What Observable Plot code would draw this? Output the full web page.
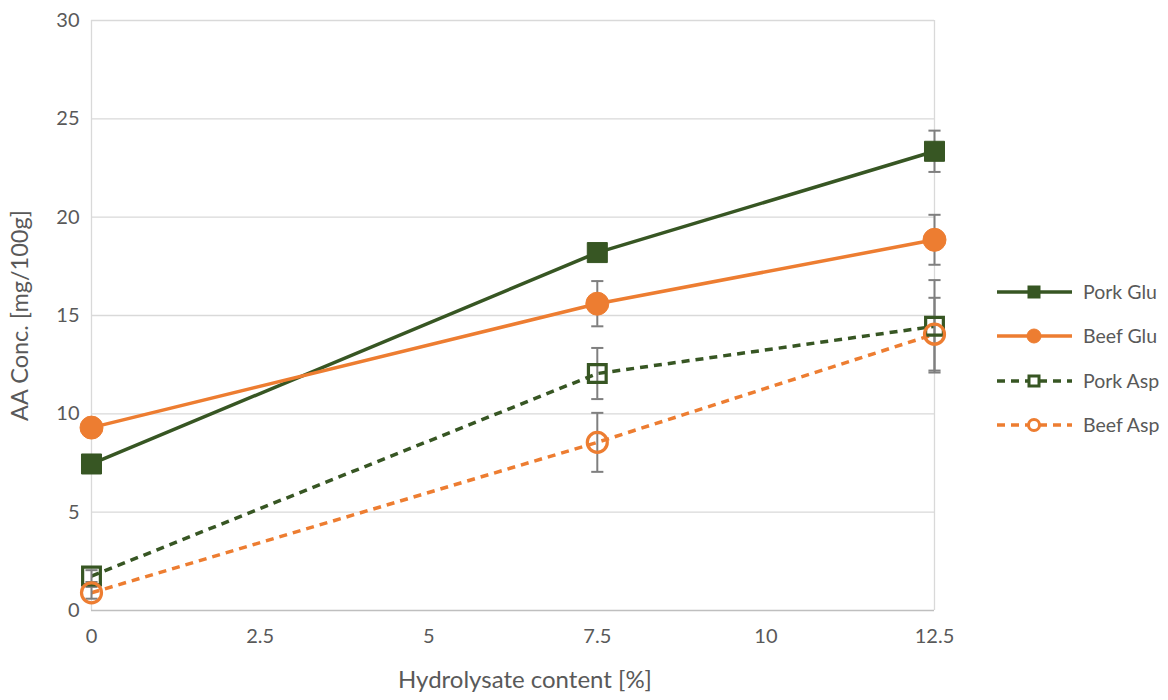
<!DOCTYPE html>
<html>
<head>
<meta charset="utf-8">
<script src="https://cdn.jsdelivr.net/npm/d3@7"></script>
<script src="https://cdn.jsdelivr.net/npm/@observablehq/plot@0.6"></script>
<style>
  html, body { margin: 0; padding: 0; background: #fff; }
  #chart { width: 1168px; height: 700px; }
</style>
</head>
<body>
<div id="chart"></div>
<script>
// Hydrolysate content levels (%)
const hydrolysate = [0, 7.5, 12.5];
const xTicks = [0, 2.5, 5, 7.5, 10, 12.5];
const yTicks = [0, 5, 10, 15, 20, 25, 30];

// Amino acid concentration (mg/100g) with error bar half-widths
const seriesNames = ["Pork Glu", "Beef Glu", "Pork Asp", "Beef Asp"];
const porkGlu = [7.45, 18.2, 23.35];
const porkGluErr = [0.2, 0.3, 1.05];
const beefGlu = [9.3, 15.6, 18.85];
const beefGluErr = [0.2, 1.15, 1.27];
const porkAsp = [1.75, 12.05, 14.45];
const porkAspErr = [0.3, 1.3, 2.35];
const beefAsp = [0.9, 8.55, 14.05];
const beefAspErr = [0.3, 1.5, 1.85];

const green = "#375623";
const orange = "#ED7D31";
const styles = {
  "Pork Glu": {color: green, dash: null, symbol: "square", filled: true},
  "Beef Glu": {color: orange, dash: null, symbol: "circle", filled: true},
  "Pork Asp": {color: green, dash: "8,6", symbol: "square", filled: false},
  "Beef Asp": {color: orange, dash: "8,6", symbol: "circle", filled: false}
};

const values = [porkGlu, beefGlu, porkAsp, beefAsp];
const errors = [porkGluErr, beefGluErr, porkAspErr, beefAspErr];
const data = seriesNames.flatMap((s, i) =>
  hydrolysate.map((x, j) => ({series: s, x, y: values[i][j], e: errors[i][j]}))
);

const font = "Lato, 'Open Sans', sans-serif";
const textColor = "#595959";
const capHalf = 0.09;

const marks = [
  Plot.gridY(yTicks.slice(1), {stroke: "#d9d9d9", strokeOpacity: 1, strokeWidth: 1.3}),
  Plot.ruleX([0, 12.5], {stroke: "#d9d9d9", strokeWidth: 1.3}),
  Plot.ruleY([0], {stroke: "#bfbfbf", strokeWidth: 1.3}),
  Plot.axisY(yTicks, {tickSize: 0, tickPadding: 12, fontSize: 20, fill: textColor, label: null}),
  Plot.axisX(xTicks, {tickSize: 0, tickPadding: 18, fontSize: 20, fill: textColor,
    tickFormat: d => String(d), label: null}),
  Plot.text(["AA Conc. [mg/100g]"], {frameAnchor: "left", rotate: -90, dx: -71,
    textAnchor: "middle", lineAnchor: "middle", fontSize: 23.5, fill: textColor}),
  Plot.text(["Hydrolysate content [%]"], {frameAnchor: "bottom", dy: 70, dx: 12,
    textAnchor: "middle", lineAnchor: "middle", fontSize: 24, fill: textColor})
];

for (const s of seriesNames) {
  const st = styles[s];
  const d = data.filter(r => r.series === s);
  marks.push(Plot.line(d, {x: "x", y: "y", stroke: st.color, strokeWidth: 3.5,
    strokeDasharray: st.dash, strokeLinecap: "butt"}));
}
// error bars
marks.push(Plot.ruleX(data, {x: "x", y1: d => d.y - d.e, y2: d => d.y + d.e, stroke: "#7f7f7f", strokeWidth: 2}));
marks.push(Plot.link(data, {x1: d => d.x - capHalf, x2: d => d.x + capHalf, y1: d => d.y - d.e, y2: d => d.y - d.e, stroke: "#7f7f7f", strokeWidth: 2}));
marks.push(Plot.link(data, {x1: d => d.x - capHalf, x2: d => d.x + capHalf, y1: d => d.y + d.e, y2: d => d.y + d.e, stroke: "#7f7f7f", strokeWidth: 2}));

for (const s of seriesNames) {
  const st = styles[s];
  const d = data.filter(r => r.series === s);
  const r = st.symbol === "square" ? (st.filled ? 11.3 : 10) : (st.filled ? 11.5 : 10);
  marks.push(Plot.dot(d, {x: "x", y: "y", symbol: st.symbol, r,
    fill: st.filled ? st.color : "none", stroke: st.color, strokeWidth: st.filled ? 1 : 3.2}));
}

const chart = Plot.plot({
  width: 1168,
  height: 700,
  marginLeft: 91,
  marginRight: 234,
  marginTop: 20,
  marginBottom: 90,
  style: {fontFamily: font, background: "#fff", color: textColor, fontSize: "20px"},
  x: {domain: [0, 12.5]},
  y: {domain: [0, 30]},
  marks
});

// legend drawn at the right of the plot area
const svg = d3.select(chart);
const legend = svg.append("g").attr("font-family", font).attr("font-size", 19.5)
  .attr("fill", textColor).attr("text-anchor", "start");
const lx0 = 997, lx1 = 1072, lmid = 1034, ltext = 1083;
const rowY = [292, 336, 381, 425];
seriesNames.forEach((s, i) => {
  const st = styles[s];
  const y = rowY[i];
  legend.append("line").attr("x1", lx0).attr("x2", lx1).attr("y1", y).attr("y2", y)
    .attr("stroke", st.color).attr("stroke-width", 3.5)
    .attr("stroke-dasharray", st.dash);
  if (st.symbol === "square") {
    const side = st.filled ? 12 : 10;
    legend.append("rect").attr("x", lmid - side / 2).attr("y", y - side / 2)
      .attr("width", side).attr("height", side)
      .attr("fill", st.filled ? st.color : "#fff")
      .attr("stroke", st.color).attr("stroke-width", st.filled ? 1 : 3);
  } else {
    legend.append("circle").attr("cx", lmid).attr("cy", y).attr("r", st.filled ? 7 : 5.5)
      .attr("fill", st.filled ? st.color : "#fff")
      .attr("stroke", st.color).attr("stroke-width", st.filled ? 1 : 3);
  }
  legend.append("text").attr("x", ltext).attr("y", y).attr("dy", "0.35em").text(s);
});

document.getElementById("chart").appendChild(chart);
</script>
</body>
</html>
